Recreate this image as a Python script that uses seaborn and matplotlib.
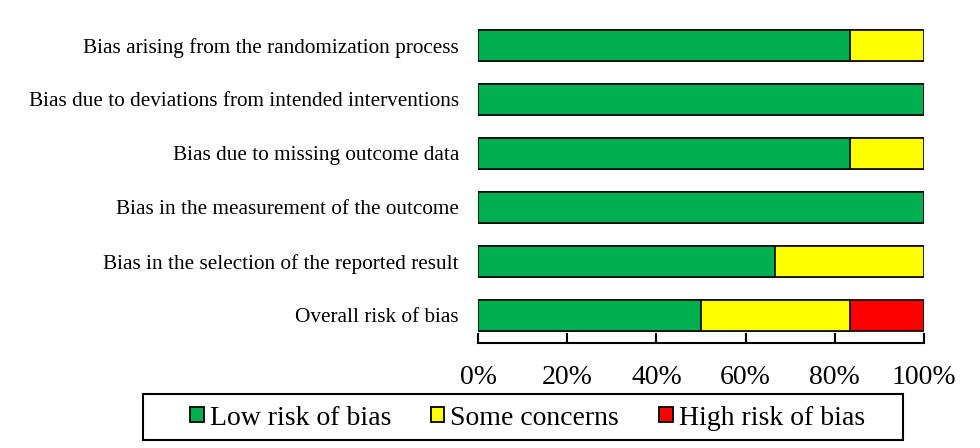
import matplotlib
matplotlib.use("Agg")
import matplotlib.pyplot as plt
from matplotlib.patches import Patch, Rectangle
import seaborn as sns
import pandas as pd
import numpy as np

categories = [
    "Bias arising from the randomization process",
    "Bias due to deviations from intended interventions",
    "Bias due to missing outcome data",
    "Bias in the measurement of the outcome",
    "Bias in the selection of the reported result",
    "Overall risk of bias",
]
low = [83.3, 100.0, 83.3, 100.0, 66.7, 50.0]
some = [16.7, 0.0, 16.7, 0.0, 33.3, 33.3]
high = [0.0, 0.0, 0.0, 0.0, 0.0, 16.7]
series_names = ["Low risk of bias", "Some concerns", "High risk of bias"]
colors = ["#00B050", "#FFFF00", "#FF0000"]
tick_vals = [0, 20, 40, 60, 80, 100]
tick_labels = ["0%", "20%", "40%", "60%", "80%", "100%"]

sns.set_style("white")
plt.rcParams["font.family"] = ["Liberation Serif", "DejaVu Serif"]
plt.rcParams["text.color"] = "black"
plt.rcParams["xtick.color"] = "black"
plt.rcParams["ytick.color"] = "black"
plt.rcParams["xtick.labelcolor"] = "black"
plt.rcParams["ytick.labelcolor"] = "black"

df = pd.DataFrame({"cat": categories, "low": low, "some": some, "high": high})
df["cum_some"] = df["low"] + df["some"]
df["cum_high"] = df["cum_some"] + df["high"]

fig = plt.figure(figsize=(9.8, 4.48), dpi=100)
ax = fig.add_axes([478 / 980, 0.2344, 446 / 980, 0.7243])

bw = 0.574
for col, c in [("cum_high", colors[2]), ("cum_some", colors[1]), ("low", colors[0])]:
    sns.barplot(data=df, x=col, y="cat", orient="h", color=c, width=bw,
                edgecolor="#111111", linewidth=1.3, ax=ax, saturation=1)

ax.set_xlim(0, 100)
ax.set_ylim(5.51, -0.5)
ax.set_xlabel("")
ax.set_ylabel("")
ax.set_xticks(tick_vals)
ax.set_xticklabels(tick_labels, fontsize=20, color="black")
ax.tick_params(axis="x", direction="in", length=7, width=1.5, pad=16, colors="black", bottom=True, top=False)
ax.tick_params(axis="y", length=0, pad=13.7, labelsize=15.3, colors="black", left=False)
for s in ["left", "top", "right"]:
    ax.spines[s].set_visible(False)
ax.spines["bottom"].set_linewidth(1.5)
ax.spines["bottom"].set_color("black")

handles = [Patch(facecolor=c, edgecolor="black", linewidth=1.3) for c in colors]
leg = fig.legend(handles, series_names, loc="center", bbox_to_anchor=(527.5 / 980, 1 - 418 / 448),
                 ncol=3, frameon=False, fontsize=20, handlelength=0.48, handleheight=0.48,
                 handletextpad=0.22, columnspacing=1.44, borderpad=0.2, labelcolor="black")
fig.add_artist(Rectangle((143 / 980, 1 - 440 / 448), (903 - 143) / 980, 46 / 448,
                         transform=fig.transFigure, fill=False, edgecolor="black", linewidth=1.5))

fig.savefig("out.png", dpi=100)
